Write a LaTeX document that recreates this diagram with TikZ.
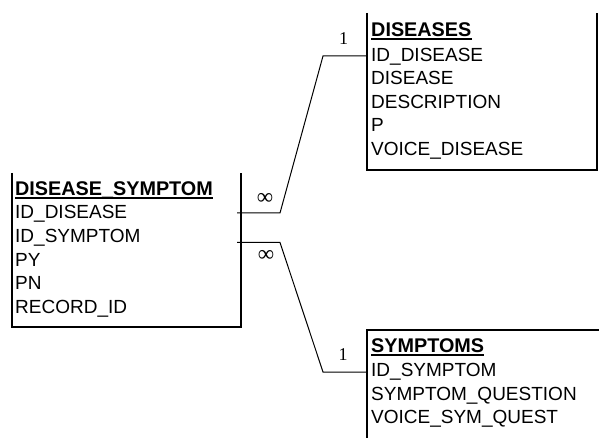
\documentclass[tikz,border=0pt]{standalone}
\usepackage{fontspec}
\setmainfont{Liberation Sans}
\newfontfamily\cardfont{Liberation Serif}
\usetikzlibrary{positioning}

\tikzset{
  field/.style={anchor=base west,inner sep=0pt,font=\fontsize{19}{22}\selectfont},
  tabletitle/.style={field,font=\fontsize{19.8}{22}\selectfont\bfseries},
  card/.style={inner sep=0pt,font=\cardfont\fontsize{18}{20}\selectfont},
  manycard/.style={inner sep=0pt,font=\cardfont\fontsize{23}{24}\selectfont},
  tableline/.style={line width=2pt},
  titleline/.style={line width=1.8pt},
  relation/.style={line width=1pt}
}

\begin{document}
\begin{tikzpicture}[x=1pt,y=-1pt]
  \useasboundingbox (0,0) rectangle (599,438);
  % table DISEASE_SYMPTOM
  \draw[tableline]
    (12,173)
    --
    (12,327)
    --
    (241,327)
    --
    (241,173);
  \node[tabletitle] (dstitle) at (15,195.5) {DISEASE\_SYMPTOM};
  \draw[titleline]
    ([yshift=-2.5pt]dstitle.base west)
    --
    ([yshift=-2.5pt]dstitle.base east);
  \node[field] (dsiddisease) at (15,219) {ID\_DISEASE};
  \node[field] (dsidsymptom) at (15,242.5) {ID\_SYMPTOM};
  \node[field] (dspy) at (15,266) {PY};
  \node[field] (dspn) at (15,289.5) {PN};
  \node[field] (dsrecord) at (15,313) {RECORD\_ID};
  % table DISEASES
  \draw[tableline]
    (367,13)
    --
    (367,170)
    --
    (597,170)
    --
    (597,13);
  \node[tabletitle] (dtitle) at (371,36.5) {DISEASES};
  \draw[titleline]
    ([yshift=-2.5pt]dtitle.base west)
    --
    ([yshift=-2.5pt]dtitle.base east);
  \node[field] (diddisease) at (371,61.5) {ID\_DISEASE};
  \node[field] (ddisease) at (371,85) {DISEASE};
  \node[field] (ddescr) at (371,108.5) {DESCRIPTION};
  \node[field] (dp) at (371,132) {P};
  \node[field] (dvoice) at (371,155.5) {VOICE\_DISEASE};
  % table SYMPTOMS
  \draw[tableline]
    (367,438)
    --
    (367,330)
    --
    (599,330);
  \node[tabletitle] (stitle) at (371,352.5) {SYMPTOMS};
  \draw[titleline]
    ([yshift=-2.5pt]stitle.base west)
    --
    ([yshift=-2.5pt]stitle.base east);
  \node[field] (sidsymptom) at (371,376.5) {ID\_SYMPTOM};
  \node[field] (squestion) at (371,400) {SYMPTOM\_QUESTION};
  \node[field] (svoice) at (371,423.5) {VOICE\_SYM\_QUEST};
  % relations
  \coordinate (r1a) at (237,213);
  \coordinate (r1b) at (280,213);
  \coordinate (r1c) at (323,56);
  \coordinate (r1d) at (367,56);
  \coordinate (r2a) at (237,242.5);
  \coordinate (r2b) at (280,242.5);
  \coordinate (r2c) at (323,372);
  \coordinate (r2d) at (367,372);
  \draw[relation]
    (r1a)
    --
    (r1b)
    --
    (r1c)
    --
    (r1d);
  \draw[relation]
    (r2a)
    --
    (r2b)
    --
    (r2c)
    --
    (r2d);
  \node[manycard] (r1many) at (265,199) {∞};
  \node[card] (r1one) at (343.5,39) {1};
  \node[manycard] (r2many) at (266,255.5) {∞};
  \node[card] (r2one) at (343,355) {1};
\end{tikzpicture}
\end{document}
